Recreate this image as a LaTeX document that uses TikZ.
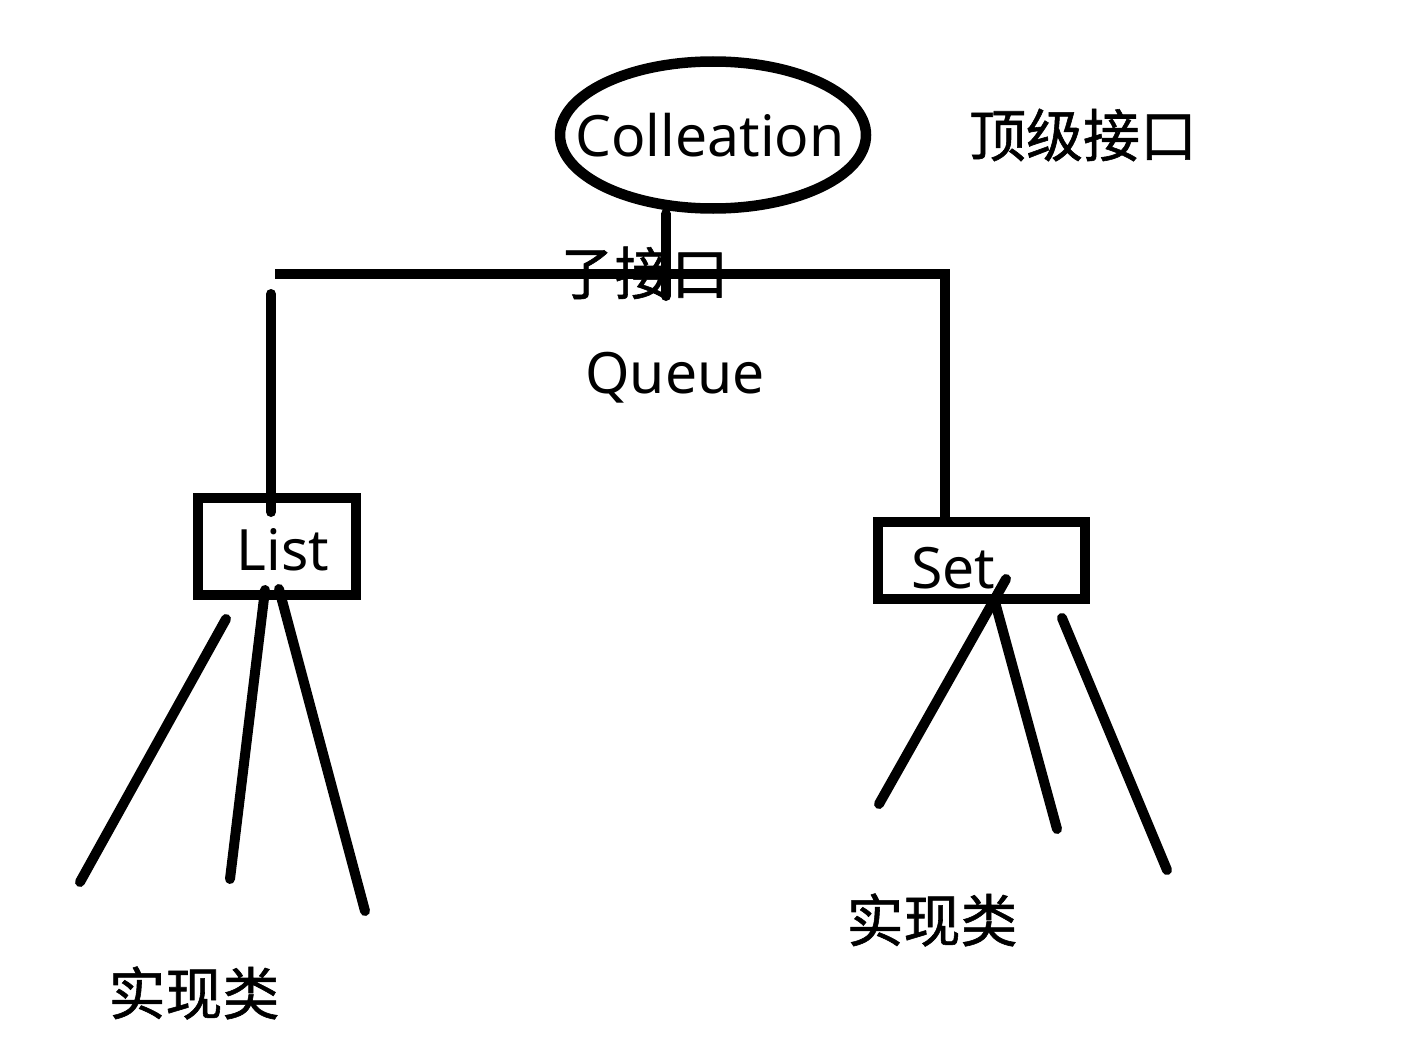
\documentclass[tikz,border=0pt]{standalone}
\usepackage{fontspec}
\setmainfont{Noto Sans}
\newfontfamily\cjk[FakeBold=1]{Noto Sans CJK SC}
\usetikzlibrary{shapes.geometric}
\tikzset{
  stroke/.style={line width=10pt, line cap=round},
  boxshape/.style={draw, line width=10pt, rectangle, inner sep=0pt},
  lbl/.style={inner sep=0pt, font=\fontsize{57}{66}\selectfont},
  cjklbl/.style={inner sep=0pt, font=\cjk\fontsize{57}{66}\selectfont},
}
\begin{document}
\begin{tikzpicture}[x=1pt,y=-1pt]
\useasboundingbox (0,0) rectangle (1412,1054);
\fill[white] (0,0) rectangle (1412,1054);
% top ellipse
\node[ellipse, draw, line width=10.5pt, minimum width=306pt, minimum height=147pt, inner sep=0pt] (coll) at (713,135) {};
\node[lbl] (colltext) at (710,135) {Colleation};
\node[cjklbl] (top) at (1083,135) {顶级接口};
% branch
\coordinate (stemtop) at (666,214);
\coordinate (stembot) at (666,296);
\coordinate (hl) at (275,274);
\coordinate (hr) at (945,274);
\coordinate (lefttop) at (271,294);
\coordinate (leftbot) at (271,512);
\coordinate (rightbot) at (945,517);
\node[cjklbl] (sub) at (643,273) {子接口};
\node[lbl] (queue) at (675,378) {Queue};
% boxes
\node[boxshape, minimum width=158pt, minimum height=97pt] (list) at (277,546.5) {};
\node[lbl] (listtext) at (283,550) {List};
\node[boxshape, minimum width=207pt, minimum height=77pt] (set) at (981.5,560.5) {};
\node[lbl] (settext) at (953,568) {Set};
\draw[stroke] (coll.south -| stemtop) -- (stembot);
\draw[stroke, line cap=butt] (hl) -- (hr) -- (rightbot);
\draw[stroke] (lefttop) -- (leftbot);
% list implementations
\coordinate (la1) at (226,619);
\coordinate (lb1) at (80,882);
\coordinate (la2) at (265,590);
\coordinate (lb2) at (230,879);
\coordinate (la3) at (279,589);
\coordinate (lb3) at (365,911);
\draw[stroke] (la1) -- (lb1);
\draw[stroke] (la2) -- (lb2);
\draw[stroke] (la3) -- (lb3);
\node[cjklbl] (limpl) at (194,993) {实现类};
% set implementations
\coordinate (sa1) at (1006,579);
\coordinate (sb1) at (879,804);
\coordinate (sa2) at (995,602);
\coordinate (sb2) at (1057,829);
\coordinate (sa3) at (1062,618);
\coordinate (sb3) at (1167,870);
\draw[stroke] (sa1) -- (sb1);
\draw[stroke] (sa2) -- (sb2);
\draw[stroke] (sa3) -- (sb3);
\node[cjklbl] (simpl) at (932,920) {实现类};
\end{tikzpicture}
\end{document}
